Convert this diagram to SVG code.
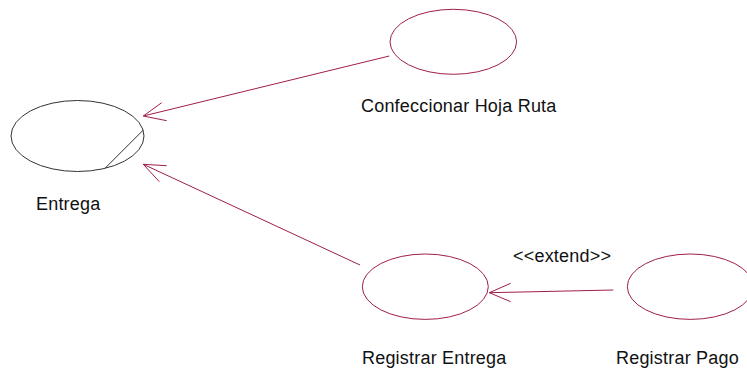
<svg xmlns="http://www.w3.org/2000/svg" width="747" height="377" viewBox="0 0 747 377">
<style>
.uc{fill:none;stroke:#9E1F4A;stroke-width:1}
.uc0{fill:none;stroke:#333;stroke-width:1}
.lbl{font-family:"Liberation Sans",Arial,sans-serif;font-size:18px;fill:#111;letter-spacing:0.2px}
.con{fill:none;stroke:#9E1F4A;stroke-width:1}
</style>
<rect width="747" height="377" fill="#fff"/>
<g id="entrega">
<ellipse class="uc0" cx="77.5" cy="136" rx="66.5" ry="35.5"/>
<line class="uc0" x1="143.3" y1="130" x2="105" y2="168.3"/>
<text class="lbl" x="36" y="210">Entrega</text>
</g>
<g id="confeccionar">
<ellipse class="uc" cx="453.3" cy="41.8" rx="63.3" ry="32.5"/>
<text class="lbl" x="361" y="112">Confeccionar Hoja Ruta</text>
</g>
<g id="registrar-entrega">
<ellipse class="uc" cx="425.3" cy="286.7" rx="63" ry="32.7"/>
<text class="lbl" x="362" y="364">Registrar Entrega</text>
</g>
<g id="registrar-pago">
<ellipse class="uc" cx="690.3" cy="286.7" rx="63" ry="32.7"/>
<text class="lbl" x="616" y="364">Registrar Pago</text>
</g>
<g id="connectors">
<polyline class="con" points="389.3,56 143.3,116"/>
<polyline class="con" points="161.7,102.7 143.3,116 166.7,120.7"/>
<polyline class="con" points="360,265 143.3,164.3"/>
<polyline class="con" points="166.7,165.7 143.3,164.3 159.3,181.7"/>
<polyline class="con" points="613.3,290 489.3,292.7"/>
<polyline class="con" points="510.7,283.3 489.3,292.7 510.7,301.7"/>
<text class="lbl" x="513" y="262">&lt;&lt;extend&gt;&gt;</text>
</g>
</svg>
